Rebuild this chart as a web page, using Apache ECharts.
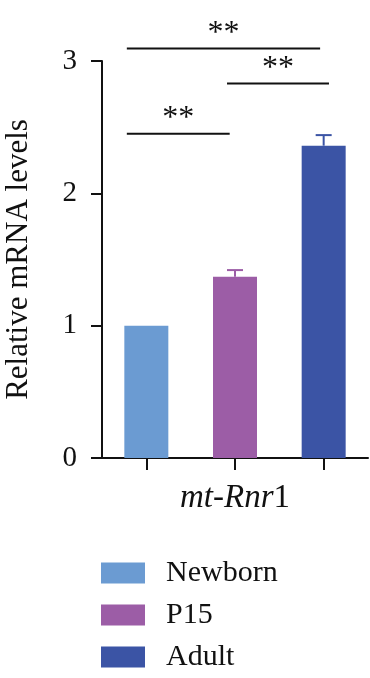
<!DOCTYPE html>
<html><head><meta charset="utf-8">
<script src="https://cdn.jsdelivr.net/npm/echarts@6/dist/echarts.min.js"></script>
<style>html,body{margin:0;padding:0;background:#fff}#c{width:370px;height:678px}</style>
</head><body><div id="c"></div>
<script>
const categories = ['Newborn', 'P15', 'Adult'];
const means = [1.0, 1.37, 2.36];
const errors = [0, 0.05, 0.08];
const colors = ['#6B9BD2', '#9C5DA6', '#3B54A5'];
const yTicks = { min: 0, max: 3, interval: 1 };
const brFrom = [-0.22, 0.91, -0.22];
const brTo = [0.94, 2.06, 1.96];
const brY = [2.45, 2.83, 3.095];
const brLabel = ['**', '**', '**'];

const FONT = 'Liberation Serif';
const chart = echarts.init(document.getElementById('c'));

const barSeries = categories.map((name, i) => ({
  name: name,
  type: 'bar',
  barWidth: 44,
  barGap: '-100%',
  itemStyle: { color: colors[i] },
  data: categories.map((c, j) => (j === i ? means[i] : null)),
  z: 2
}));

const errSeries = {
  type: 'custom',
  name: 'err',
  xAxisIndex: 0,
  data: categories.map((c, i) => [i, means[i], errors[i]]),
  renderItem: function (params, api) {
    const i = api.value(0), m = api.value(1), e = api.value(2);
    if (!e) return null;
    const p0 = api.coord([i, m]);
    const p1 = api.coord([i, m + e]);
    const col = colors[i];
    return {
      type: 'group',
      children: [
        { type: 'line', shape: { x1: p0[0], y1: p0[1], x2: p1[0], y2: p1[1] }, style: { stroke: col, lineWidth: 2 } },
        { type: 'line', shape: { x1: p1[0] - 8, y1: p1[1], x2: p1[0] + 8, y2: p1[1] }, style: { stroke: col, lineWidth: 2 } }
      ]
    };
  },
  z: 3
};

const sigSeries = {
  type: 'custom',
  name: 'sig',
  xAxisIndex: 1,
  clip: false,
  data: brY.map((y, i) => [brFrom[i], brTo[i], y, i]),
  renderItem: function (params, api) {
    const a = api.coord([api.value(0), api.value(2)]);
    const b = api.coord([api.value(1), api.value(2)]);
    return {
      type: 'group',
      children: [
        { type: 'line', shape: { x1: a[0], y1: a[1], x2: b[0], y2: b[1] }, style: { stroke: '#111', lineWidth: 2 } },
        { type: 'text', style: { text: brLabel[api.value(3)], x: (a[0] + b[0]) / 2, y: a[1] + 1, textAlign: 'center', textVerticalAlign: 'bottom', font: '32px "' + FONT + '"', fill: '#111' } }
      ]
    };
  },
  z: 4
};

chart.setOption({
  animation: false,
  textStyle: { fontFamily: FONT },
  grid: { left: 102, right: 2, top: 61, bottom: 220, containLabel: false, outerBoundsMode: 'none' },
  legend: {
    data: categories,
    orient: 'vertical',
    left: 101,
    top: 558,
    padding: 0,
    height: 120,
    icon: 'rect',
    itemWidth: 44,
    itemHeight: 21,
    itemGap: 12,
    textStyle: { fontSize: 30, fontFamily: FONT, color: '#111', lineHeight: 30, padding: [0, 0, 0, 16] }
  },
  xAxis: [{
    type: 'category',
    data: categories,
    axisLine: { onZero: false, lineStyle: { color: '#111', width: 2 } },
    axisTick: { show: true, alignWithLabel: true, length: 12, lineStyle: { color: '#111', width: 2 } },
    axisLabel: { show: true, color: 'rgba(0,0,0,0)', fontSize: 1, margin: 0, formatter: function () { return ' '; } },
    name: '{i|mt-Rnr}{n|1}',
    nameLocation: 'middle',
    nameGap: 24,
    nameMoveOverlap: false,
    nameTextStyle: {
      rich: {
        i: { fontStyle: 'italic', fontSize: 33, fontFamily: FONT, color: '#111' },
        n: { fontSize: 33, fontFamily: FONT, color: '#111' }
      }
    }
  }, {
    type: 'value',
    min: -0.5,
    max: 2.5,
    show: false
  }],
  yAxis: {
    type: 'value',
    min: yTicks.min,
    max: yTicks.max,
    interval: yTicks.interval,
    splitLine: { show: false },
    axisLine: { show: true, onZero: false, lineStyle: { color: '#111', width: 2 } },
    axisTick: { show: true, length: 11, lineStyle: { color: '#111', width: 2 } },
    axisLabel: { fontSize: 29, fontFamily: FONT, color: '#111', margin: 25 },
    name: 'Relative mRNA levels',
    nameLocation: 'middle',
    nameGap: 68,
    nameMoveOverlap: false,
    nameTextStyle: { fontSize: 31, fontFamily: FONT, color: '#111' }
  },
  series: [...barSeries, errSeries, sigSeries]
});
</script>
</body></html>
